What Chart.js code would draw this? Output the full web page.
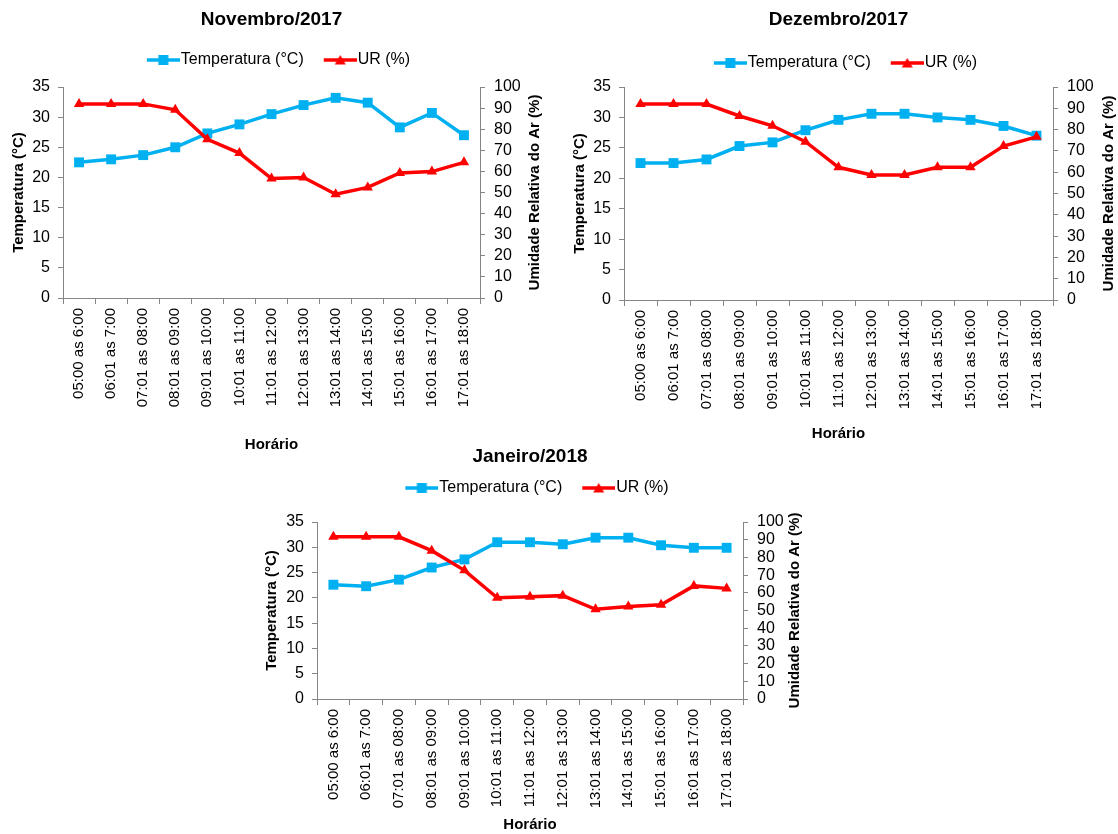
<!DOCTYPE html>
<html lang="pt">
<head>
<meta charset="utf-8">
<title>Temperatura e UR por horário</title>
<script src="https://cdn.jsdelivr.net/npm/chart.js@4.4.1/dist/chart.umd.min.js"></script>
<style>
    html, body { margin: 0; padding: 0; background: #fff; }
    body { position: relative; width: 1118px; height: 834px; overflow: hidden; }
    canvas { position: absolute; }
</style>
</head>
<body>
<canvas id="novChart" width="560" height="460" style="left:0;top:0"></canvas>
<canvas id="dezChart" width="558" height="450" style="left:560px;top:0"></canvas>
<canvas id="janChart" width="560" height="394" style="left:254px;top:440px"></canvas>
<script>
// Data
const hourLabels = [
    '05:00 as 6:00', '06:01 as 7:00', '07:01 as 08:00', '08:01 as 09:00',
    '09:01 as 10:00', '10:01 as 11:00', '11:01 as 12:00', '12:01 as 13:00',
    '13:01 as 14:00', '14:01 as 15:00', '15:01 as 16:00', '16:01 as 17:00',
    '17:01 as 18:00'
];

const tempNov = [22.5, 23.0, 23.7, 25.0, 27.3, 28.8, 30.5, 32.0, 33.2, 32.4, 28.3, 30.7, 27.0];
const urNov   = [92, 92, 92, 89.2, 75.2, 68.7, 56.6, 57.1, 49.2, 52.4, 59.3, 59.9, 64.3];

const tempDez = [22.5, 22.5, 23.1, 25.3, 25.9, 27.9, 29.6, 30.6, 30.6, 30.0, 29.6, 28.6, 27.0];
const urDez   = [92, 92, 92, 86.4, 81.8, 74.3, 62.3, 58.7, 58.7, 62.3, 62.3, 72.3, 76.6];

const tempJan = [22.6, 22.3, 23.6, 26.0, 27.6, 31.0, 31.0, 30.6, 31.9, 31.9, 30.4, 29.9, 29.9];
const urJan   = [91.6, 91.6, 91.6, 83.8, 72.7, 57.2, 57.8, 58.4, 50.7, 52.2, 53.2, 63.9, 62.5];

const FONT = "'Liberation Sans', Arial, sans-serif";
const BLUE = '#00B0F0';
const RED = '#FF0000';
const AXIS = '#868686';
const RIGHT_TITLE = 'Umidade Relativa do Ar (%)';

// legend icon: short line with the marker in the middle (Excel style)
function legendIcon(color, shape) {
    const c = document.createElement('canvas');
    c.width = 54;
    c.height = 14;
    const g = c.getContext('2d');
    g.strokeStyle = color;
    g.fillStyle = color;
    g.lineWidth = 3.5;
    g.beginPath();
    g.moveTo(21, 7);
    g.lineTo(54, 7);
    g.stroke();
    const cx = 37.5;
    if (shape === 'rect') {
        g.fillRect(cx - 5, 2, 10, 10);
    } else {
        g.beginPath();
        g.moveTo(cx, 2);
        g.lineTo(cx + 5.5, 11.5);
        g.lineTo(cx - 5.5, 11.5);
        g.closePath();
        g.fill();
    }
    return c;
}
const legendIcons = [legendIcon(BLUE, 'rect'), legendIcon(RED, 'triangle')];

// pushes the plot area down below the legend
function legendGap(px) {
    return {
        id: 'legendGap',
        beforeInit(chart) {
            const fit = chart.legend.fit;
            chart.legend.fit = function () {
                fit.call(this);
                this.height += px;
            };
        }
    };
}

// right axis title reads bottom-to-top in the original, Chart.js turns it the other way
function rightTitle(pad) {
    return {
        id: 'rightTitle',
        afterDraw(chart) {
            const s = chart.scales.y1;
            const g = chart.ctx;
            g.save();
            g.translate(s.right - pad - 9, (s.top + s.bottom) / 2);
            g.rotate(-Math.PI / 2);
            g.font = 'bold 15px ' + FONT;
            g.fillStyle = '#000';
            g.textAlign = 'center';
            g.textBaseline = 'middle';
            g.fillText(RIGHT_TITLE, 0, 0);
            g.restore();
        }
    };
}

function makeChart(id, title, temp, ur, lay) {
    const ctx = document.getElementById(id).getContext('2d');
    return new Chart(ctx, {
        type: 'line',
        data: {
            labels: hourLabels,
            datasets: [{
                label: 'Temperatura (°C)',
                data: temp,
                yAxisID: 'y',
                order: 1,
                borderColor: BLUE,
                backgroundColor: BLUE,
                borderWidth: 3.5,
                pointStyle: 'rect',
                pointRadius: 7,
                pointBorderWidth: 0,
                tension: 0
            }, {
                label: 'UR (%)',
                data: ur,
                yAxisID: 'y1',
                order: 0,
                borderColor: RED,
                backgroundColor: RED,
                borderWidth: 3.5,
                pointStyle: 'triangle',
                pointRadius: 6,
                pointBorderWidth: 0,
                tension: 0
            }]
        },
        options: {
            responsive: false,
            animation: false,
            devicePixelRatio: 1,
            layout: { padding: 0 },
            plugins: {
                title: {
                    display: true,
                    text: title,
                    fullSize: false,
                    color: '#000',
                    font: { family: FONT, size: 19, weight: 'bold', lineHeight: 1.2 },
                    padding: lay.titlePad
                },
                legend: {
                    position: 'top',
                    fullSize: false,
                    labels: {
                        color: '#000',
                        font: { family: FONT, size: 16 },
                        usePointStyle: true,
                        pointStyleWidth: 40,
                        padding: 6,
                        sort: (a, b) => a.datasetIndex - b.datasetIndex,
                        generateLabels: (chart) => {
                            const items = Chart.defaults.plugins.legend.labels.generateLabels(chart);
                            items.forEach(it => { it.pointStyle = legendIcons[it.datasetIndex]; });
                            return items;
                        }
                    }
                },
                tooltip: { enabled: false }
            },
            scales: {
                x: {
                    offset: true,
                    afterFit: (s) => { s.height = lay.xH; },
                    border: { color: AXIS, width: 1 },
                    grid: {
                        offset: true,
                        drawOnChartArea: false,
                        drawTicks: true,
                        tickLength: 6,
                        color: AXIS
                    },
                    ticks: {
                        autoSkip: false,
                        minRotation: 90,
                        maxRotation: 90,
                        padding: 4,
                        color: '#000',
                        font: { family: FONT, size: 15 }
                    },
                    title: {
                        display: true,
                        text: 'Horário',
                        color: '#000',
                        font: { family: FONT, size: 15, weight: 'bold', lineHeight: 1.2 },
                        padding: { top: 0, bottom: lay.xTitlePad }
                    }
                },
                y: {
                    position: 'left',
                    min: 0,
                    max: 35,
                    afterFit: (s) => { s.width = lay.yW; },
                    border: { color: AXIS, width: 1 },
                    grid: { drawOnChartArea: false, tickLength: 5, color: AXIS },
                    ticks: {
                        stepSize: 5,
                        autoSkip: false,
                        padding: 8,
                        color: '#000',
                        font: { family: FONT, size: 16 }
                    },
                    title: {
                        display: true,
                        text: 'Temperatura (°C)',
                        color: '#000',
                        font: { family: FONT, size: 15, weight: 'bold', lineHeight: 1.2 },
                        padding: { top: lay.yTitlePad, bottom: 0 }
                    }
                },
                y1: {
                    position: 'right',
                    min: 0,
                    max: 100,
                    afterFit: (s) => { s.width = lay.y1W; },
                    border: { color: AXIS, width: 1 },
                    grid: { drawOnChartArea: false, tickLength: 5, color: AXIS },
                    ticks: {
                        stepSize: 10,
                        autoSkip: false,
                        padding: 9,
                        color: '#000',
                        font: { family: FONT, size: 16 }
                    },
                    title: { display: false }
                }
            }
        },
        plugins: [legendGap(lay.gap), rightTitle(lay.y1TitlePad)]
    });
}

makeChart('novChart', 'Novembro/2017', tempNov, urNov, {
    titlePad: { top: 8.6, bottom: 14.6 }, gap: 9,
    yW: 63, y1W: 80, xH: 162,
    yTitlePad: 10, y1TitlePad: 16, xTitlePad: 6
});

makeChart('dezChart', 'Dezembro/2017', tempDez, urDez, {
    titlePad: { top: 8.6, bottom: 17.6 }, gap: 6,
    yW: 64, y1W: 65, xH: 150,
    yTitlePad: 11, y1TitlePad: 0, xTitlePad: 7
});

makeChart('janChart', 'Janeiro/2018', tempJan, urJan, {
    titlePad: { top: 5.6, bottom: 5.6 }, gap: 16,
    yW: 63, y1W: 71, xH: 135,
    yTitlePad: 9, y1TitlePad: 10, xTitlePad: 0
});
</script>
</body>
</html>
